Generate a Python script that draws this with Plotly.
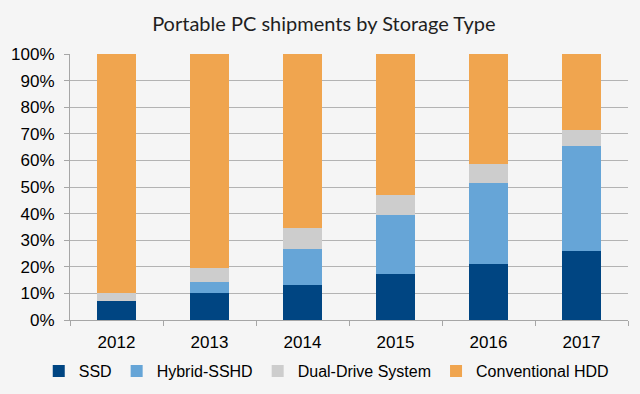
import plotly.graph_objects as go

years = ["2012", "2013", "2014", "2015", "2016", "2017"]
ssd = [7.0, 10.1, 13.0, 17.3, 21.1, 25.8]
hybrid = [0.0, 4.0, 13.8, 22.0, 30.3, 39.5]
dual = [3.1, 5.5, 7.9, 7.8, 7.2, 6.0]
hdd = [89.9, 80.4, 65.3, 52.9, 41.4, 28.7]

series = [
    ("SSD", ssd, "#004582"),
    ("Hybrid-SSHD", hybrid, "#66a5d7"),
    ("Dual-Drive System", dual, "#cdcdcd"),
    ("Conventional HDD", hdd, "#f0a54f"),
]

fig = go.Figure()
for name, vals, color in series:
    fig.add_trace(go.Bar(
        x=years, y=vals, name=name,
        marker=dict(color=color, line=dict(width=0)),
    ))

fig.update_layout(
    barmode="stack",
    bargap=0.59,
    width=640, height=394,
    margin=dict(l=70, r=12, t=54, b=74, autoexpand=False),
    paper_bgcolor="#f5f5f5",
    plot_bgcolor="#f5f5f5",
    font=dict(family="Liberation Sans, Arial, sans-serif", size=17, color="#000000"),
    title=dict(
        text="Portable PC shipments by Storage Type",
        x=0.506, xanchor="center", y=0.939, yanchor="middle",
        font=dict(family="Lato, Open Sans, sans-serif", size=20, color="#1f1f1f"),
    ),
    showlegend=True,
    legend=dict(
        orientation="h",
        x=-0.056, xanchor="left", y=-0.192, yanchor="middle",
        font=dict(size=16), itemwidth=30, traceorder="normal",
        bgcolor="rgba(0,0,0,0)",
    ),
    xaxis=dict(
        showline=True, linecolor="#a6a6a6", linewidth=1,
        ticks="outside", ticklen=5, tickcolor="#a6a6a6",
        tickson="boundaries", showgrid=False, ticklabelstandoff=7,
    ),
    yaxis=dict(
        range=[0, 100], dtick=10, ticksuffix="%",
        showline=True, linecolor="#a6a6a6", linewidth=1,
        ticks="outside", ticklen=5, tickcolor="#a6a6a6",
        showgrid=True, gridcolor="#b3b3b3", gridwidth=1,
        zeroline=False, ticklabelstandoff=6,
    ),
)

fig.write_html(
    "out.html",
    config={"displayModeBar": False},
    post_script="document.body.style.margin='0';document.body.style.background='#f5f5f5';",
)
